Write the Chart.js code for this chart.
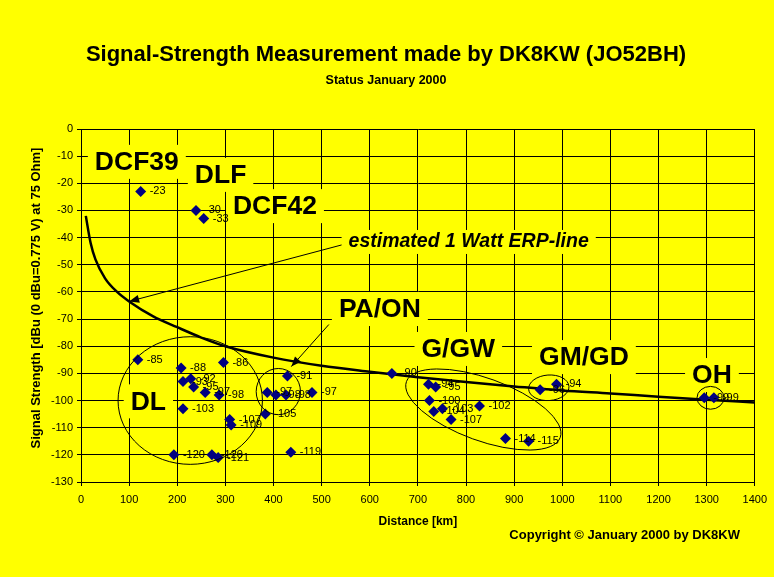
<!DOCTYPE html>
<html>
<head>
<meta charset="utf-8">
<title>Signal-Strength Measurement made by DK8KW (JO52BH)</title>
<script src="https://cdn.jsdelivr.net/npm/chart.js@4/dist/chart.umd.min.js"></script>
<style>
  html, body { margin: 0; padding: 0; background: #ffff00; }
  canvas { display: block; }
</style>
</head>
<body>
<canvas id="chart" width="774" height="577"></canvas>
<script>
// Received stations: distance from the receiver (km) and measured level (dBu)
const distanceKm = [
  124, 239, 255,
  118, 208, 296, 212, 228, 234, 258, 287, 212, 309, 312, 193, 272, 285,
  429, 387, 405, 426, 480, 383, 436,
  646,
  722, 737, 724, 733, 751, 769, 828, 882, 930,
  954, 988,
  1295, 1315
];
const levelDbu = [
  -23, -30, -33,
  -85, -88, -86, -93, -92, -95, -97, -98, -103, -107, -109, -120, -120, -121,
  -91, -97, -98, -98, -97, -105, -119,
  -90,
  -94, -95, -100, -104, -103, -107, -102, -114, -115,
  -96, -94,
  -99, -99
];

// Estimated field strength of a 1 W ERP transmitter
const erpKm  = [10, 20, 30, 50, 75, 100, 150, 200, 250, 300, 400, 500, 600, 700, 800, 900, 1000, 1100, 1200, 1300, 1400];
const erpDbu = [-32, -42, -48, -55, -60, -63.5, -69, -73, -76.8, -80, -84.2, -87.2, -89.4, -91.4, -93.2, -94.8, -96.3, -97.4, -98.6, -99.7, -100.7];

// Axis ranges
const distanceRange = [0, 1400, 100];
const levelRange = [-130, 0, 10];

// Region tags and the line note
const regionTags = ['DCF39', 'DLF', 'DCF42', 'PA/ON', 'G/GW', 'GM/GD', 'OH', 'DL'];
const lineNote = 'estimated 1 Watt ERP-line';

const FONT = "'Liberation Sans', Arial, sans-serif";

const tagPlacement = {
  'DCF39': [116, -12.1],
  'DLF':   [290, -16.9],
  'DCF42': [403, -28.4],
  'PA/ON': [621, -66.3],
  'G/GW':  [784, -81],
  'GM/GD': [1045, -84],
  'OH':    [1311, -90.6],
  'DL':    [140, -100.3]
};

// group outlines: centre (km, dBu), radii (km, dB), tilt (deg)
const outlines = [
  { x: 227,  y: -100,  rx: 150, ry: 23.5, tilt: 0 },
  { x: 410,  y: -96.7, rx: 46,  ry: 8.5,  tilt: 0 },
  { x: 836,  y: -103.3, rx: 170, ry: 11.5, tilt: 20 },
  { x: 972,  y: -95.3, rx: 42,  ry: 4.7,  tilt: -4 },
  { x: 1308, y: -99,   rx: 28,  ry: 4.2,  tilt: 0 }
];

function drawArrow(ctx, x1, y1, x2, y2) {
  ctx.beginPath();
  ctx.moveTo(x1, y1);
  ctx.lineTo(x2, y2);
  ctx.stroke();
  const a = Math.atan2(y2 - y1, x2 - x1);
  const len = 10, half = 4;
  ctx.beginPath();
  ctx.moveTo(x2, y2);
  ctx.lineTo(x2 - len * Math.cos(a) + half * Math.sin(a), y2 - len * Math.sin(a) - half * Math.cos(a));
  ctx.lineTo(x2 - len * Math.cos(a) - half * Math.sin(a), y2 - len * Math.sin(a) + half * Math.cos(a));
  ctx.closePath();
  ctx.fill();
}

const backdrop = {
  id: 'backdrop',
  beforeDraw(chart) {
    const ctx = chart.ctx;
    ctx.save();
    ctx.fillStyle = '#ffff00';
    ctx.fillRect(0, 0, chart.width, chart.height);
    ctx.restore();
  }
};

let noteBox = null;

const tagsLayer = {
  id: 'tagsLayer',
  beforeDatasetsDraw(chart) {
    const ctx = chart.ctx, xs = chart.scales.x, ys = chart.scales.y;
    ctx.save();
    ctx.textAlign = 'center';
    ctx.textBaseline = 'middle';
    ctx.font = 'bold 26.5px ' + FONT;
    regionTags.forEach(t => {
      const [vx, vy] = tagPlacement[t];
      const cx = xs.getPixelForValue(vx), cy = ys.getPixelForValue(vy);
      const w = ctx.measureText(t).width;
      ctx.fillStyle = '#ffff00';
      ctx.fillRect(cx - w / 2 - 7, cy - 17, w + 14, 34);
      ctx.fillStyle = '#000';
      ctx.fillText(t, cx, cy + 1);
    });
    // note next to the estimated line
    ctx.font = 'italic bold 19.5px ' + FONT;
    ctx.textAlign = 'left';
    const nx = xs.getPixelForValue(556), ny = ys.getPixelForValue(-41.6);
    const nw = ctx.measureText(lineNote).width;
    noteBox = { left: nx - 7, top: ny - 12, w: nw + 14, h: 24 };
    ctx.fillStyle = '#ffff00';
    ctx.fillRect(noteBox.left, noteBox.top, noteBox.w, noteBox.h);
    ctx.fillStyle = '#000';
    ctx.fillText(lineNote, nx, ny);
    ctx.restore();
  },
  afterDatasetsDraw(chart) {
    const ctx = chart.ctx, xs = chart.scales.x, ys = chart.scales.y;
    const kmPx = Math.abs(xs.getPixelForValue(1) - xs.getPixelForValue(0));
    const dbPx = Math.abs(ys.getPixelForValue(1) - ys.getPixelForValue(0));
    ctx.save();
    ctx.strokeStyle = '#000';
    ctx.fillStyle = '#000';
    ctx.lineWidth = 1;
    outlines.forEach(o => {
      ctx.beginPath();
      ctx.ellipse(xs.getPixelForValue(o.x), ys.getPixelForValue(o.y),
        o.rx * kmPx, o.ry * dbPx, o.tilt * Math.PI / 180, 0, Math.PI * 2);
      ctx.stroke();
    });
    // arrows from the note and from the PA/ON tag
    if (noteBox) {
      drawArrow(ctx, noteBox.left, noteBox.top + noteBox.h / 2 + 3,
        xs.getPixelForValue(100), ys.getPixelForValue(-63.5));
    }
    drawArrow(ctx, xs.getPixelForValue(515), ys.getPixelForValue(-72),
      xs.getPixelForValue(437), ys.getPixelForValue(-87.5));

    // value labels beside each measured point
    ctx.font = '11px ' + FONT;
    ctx.textAlign = 'left';
    ctx.textBaseline = 'middle';
    const meta = chart.getDatasetMeta(0);
    meta.data.forEach((pt, i) => {
      ctx.fillText(String(levelDbu[i]), pt.x + 9, pt.y);
    });
    ctx.restore();
  },
  afterDraw(chart) {
    const ctx = chart.ctx;
    ctx.save();
    ctx.fillStyle = '#000';
    ctx.textAlign = 'center';
    ctx.textBaseline = 'middle';
    ctx.font = 'bold 22px ' + FONT;
    ctx.fillText('Signal-Strength Measurement made by DK8KW (JO52BH)', 386, 55);
    ctx.font = 'bold 12.5px ' + FONT;
    ctx.fillText('Status January 2000', 386, 81);
    // value axis title, rotated
    ctx.save();
    ctx.translate(36, 298);
    ctx.rotate(-Math.PI / 2);
    ctx.font = 'bold 13px ' + FONT;
    ctx.fillText('Signal Strength [dBu (0 dBu=0.775 V) at 75 Ohm]', 0, 0);
    ctx.restore();
    ctx.font = 'bold 13px ' + FONT;
    ctx.textAlign = 'right';
    ctx.fillText('Copyright \u00A9 January 2000 by DK8KW', 740, 535);
    ctx.restore();
  }
};

new Chart(document.getElementById('chart'), {
  type: 'scatter',
  data: {
    datasets: [
      {
        label: 'Measurements',
        data: distanceKm.map((d, i) => ({ x: d, y: levelDbu[i] })),
        pointStyle: 'rectRot',
        pointRadius: 5.5,
        pointHoverRadius: 5.5,
        backgroundColor: '#000080',
        borderColor: '#000080',
        borderWidth: 0
      },
      {
        type: 'line',
        label: 'estimated 1 Watt ERP-line',
        data: erpKm.map((d, i) => ({ x: d, y: erpDbu[i] })),
        borderColor: '#000',
        borderWidth: 2.5,
        pointRadius: 0,
        fill: false,
        cubicInterpolationMode: 'monotone'
      }
    ]
  },
  options: {
    responsive: false,
    animation: false,
    devicePixelRatio: 1,
    layout: { padding: { top: 129, right: 17, bottom: 0, left: 0 } },
    plugins: { legend: { display: false }, tooltip: { enabled: false }, title: { display: false } },
    scales: {
      x: {
        type: 'linear',
        min: distanceRange[0], max: distanceRange[1],
        afterFit: s => { s.height = 95; },
        ticks: { stepSize: distanceRange[2], color: '#000', padding: 7, font: { family: FONT, size: 11 }, callback: v => String(v), maxRotation: 0 },
        grid: { color: '#000', lineWidth: 1, tickLength: 4, tickColor: '#000' },
        border: { color: '#000', width: 1 },
        title: { display: true, text: 'Distance [km]', color: '#000', font: { family: FONT, size: 12, weight: 'bold' }, padding: { top: 0, bottom: 48 } }
      },
      y: {
        type: 'linear',
        min: levelRange[0], max: levelRange[1],
        afterFit: s => { s.width = 81; },
        ticks: { stepSize: levelRange[2], color: '#000', padding: 4, font: { family: FONT, size: 11 }, callback: v => String(v) },
        grid: { color: '#000', lineWidth: 1, tickLength: 4, tickColor: '#000' },
        border: { color: '#000', width: 1 },
        title: { display: false }
      }
    }
  },
  plugins: [backdrop, tagsLayer]
});
</script>
</body>
</html>
